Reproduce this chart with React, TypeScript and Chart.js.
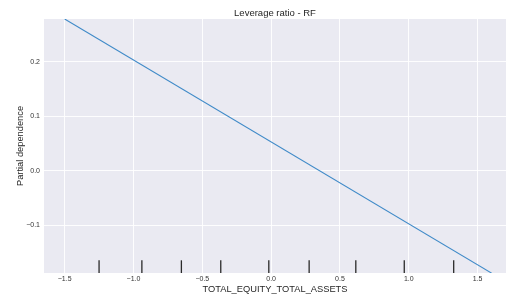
import React, { useEffect, useRef } from "react";
import { Chart, registerables } from "chart.js";

Chart.register(...registerables);

const chartTitle = "Leverage ratio - RF";
const xLabel = "TOTAL_EQUITY_TOTAL_ASSETS";
const yLabel = "Partial dependence";

// partial dependence curve (straight line)
const pdX = [-1.5, 1.602];
const pdY = [0.279, -0.188];

// deciles of the feature (rug marks)
const decileX = [-1.25, -0.939, -0.652, -0.366, -0.017, 0.276, 0.615, 0.967, 1.326];

const xTickValues = [-1.5, -1.0, -0.5, 0.0, 0.5, 1.0, 1.5];
const yTickValues = [-0.1, 0.0, 0.1, 0.2];

const xMin = -1.65;
const xMax = 1.706;
const yMin = -0.1877;
const yMax = 0.279;
const rugFrac = 0.05;

const FONT = "'Liberation Sans', Arial, sans-serif";

const fmt = (v: number) => {
  const s = Math.abs(v).toFixed(1);
  return v < -1e-9 ? "\u2212" + s : s;
};

const bgPlugin = {
  id: "plotBg",
  beforeDraw(chart: any) {
    const { ctx, chartArea } = chart;
    ctx.save();
    ctx.fillStyle = "#EAEAF2";
    ctx.fillRect(chartArea.left, chartArea.top, chartArea.right - chartArea.left, chartArea.bottom - chartArea.top);
    ctx.restore();
  },
};

export default function App() {
  const ref = useRef<HTMLCanvasElement | null>(null);

  useEffect(() => {
    if (!ref.current) return;
    const rugSets = decileX.map((d) => ({
      data: [
        { x: d, y: yMin },
        { x: d, y: yMin + rugFrac * (yMax - yMin) },
      ],
      borderColor: "#2a2a2a",
      borderWidth: 1.3,
      pointRadius: 0,
    }));
    const chart = new Chart(ref.current, {
      type: "line",
      data: {
        datasets: [
          {
            data: pdX.map((x, i) => ({ x, y: pdY[i] })),
            borderColor: "#3f8ac8",
            borderWidth: 1.1,
            pointRadius: 0,
          },
          ...rugSets,
        ],
      },
      options: {
        animation: false,
        responsive: false,
        layout: { padding: 0 },
        plugins: {
          legend: { display: false },
          tooltip: { enabled: false },
          title: {
            display: true,
            fullSize: false,
            text: chartTitle,
            color: "#262626",
            font: { family: FONT, size: 9.5, weight: "normal" },
            padding: { top: 7.6, bottom: 0 },
          },
        },
        scales: {
          x: {
            type: "linear",
            min: xMin,
            max: xMax,
            afterFit: (s: any) => {
              s.height = 22;
            },
            afterBuildTicks: (s: any) => {
              s.ticks = xTickValues.map((v) => ({ value: v }));
            },
            grid: { color: "rgba(255,255,255,0.9)", lineWidth: 1, drawTicks: false },
            border: { display: false },
            ticks: {
              color: "#333333",
              padding: 2,
              font: { family: FONT, size: 7 },
              callback: (v: any) => fmt(Number(v)),
            },
            title: {
              display: true,
              text: xLabel,
              color: "#262626",
              font: { family: FONT, size: 9.3 },
              padding: { top: 0, bottom: 0.4 },
            },
          },
          y: {
            type: "linear",
            min: yMin,
            max: yMax,
            afterFit: (s: any) => {
              s.width = 44;
            },
            afterBuildTicks: (s: any) => {
              s.ticks = yTickValues.map((v) => ({ value: v }));
            },
            grid: { color: "rgba(255,255,255,0.9)", lineWidth: 1, drawTicks: false },
            border: { display: false },
            ticks: {
              color: "#333333",
              padding: 4,
              font: { family: FONT, size: 7 },
              callback: (v: any) => fmt(Number(v)),
            },
            title: {
              display: true,
              text: yLabel,
              color: "#262626",
              font: { family: FONT, size: 9.3 },
              padding: { top: 14.4, bottom: 0 },
            },
          },
        },
      },
      plugins: [bgPlugin],
    } as any);
    return () => chart.destroy();
  }, []);

  return (
    <div style={{ position: "fixed", left: 0, top: 0, width: 506, height: 295, background: "#fff" }}>
      <canvas ref={ref} width={506} height={295} style={{ width: 506, height: 295, display: "block" }} />
    </div>
  );
}
